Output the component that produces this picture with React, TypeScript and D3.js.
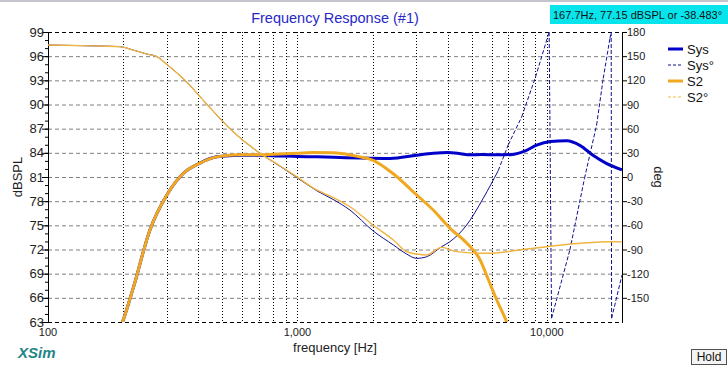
import React, { useRef, useEffect } from "react";
import { select, scaleLog, scaleLinear, line, curveMonotoneX, range } from "d3";

// Sys magnitude (dBSPL)
const sysMagFreq = [190, 200, 220, 256, 300, 350, 405, 475, 590, 700, 850, 1000, 1200, 1400, 1800, 2350, 3000, 3500, 4000, 4500, 4900, 5500, 6400, 7300, 8200, 9100, 10300, 12000, 13600, 15300, 17300, 20000];
const sysMagDb = [61.5, 63.2, 67.3, 74.4, 78.8, 81.5, 82.7, 83.5, 83.7, 83.7, 83.6, 83.55, 83.5, 83.45, 83.35, 83.3, 83.7, 83.95, 84.05, 83.9, 83.75, 83.8, 83.75, 83.8, 84.25, 84.95, 85.4, 85.5, 84.9, 83.7, 82.7, 81.9];

// S2 magnitude (dBSPL)
const s2MagFreq = [190, 200, 220, 256, 300, 350, 405, 475, 590, 700, 850, 1000, 1150, 1400, 1780, 2000, 2400, 3000, 3500, 4100, 4770, 5400, 5800, 6300, 6900, 7200];
const s2MagDb = [61.5, 63.2, 67.3, 74.4, 78.8, 81.5, 82.7, 83.5, 83.75, 83.75, 83.85, 83.95, 84.05, 84.0, 83.5, 83.1, 81.5, 78.8, 76.9, 74.6, 72.8, 70.7, 68.4, 65.7, 63.0, 61.5];

// Sys phase (deg), wrapped
const sysPhFreq = [100, 150, 194, 220, 250, 273, 299, 354, 434, 536, 703, 850, 993, 1194, 1387, 1623, 2007, 2424, 2739, 3003, 3295, 3784, 4085, 4768, 5556, 6383, 7000, 7920, 9000, 10210, 10440, 12360, 14150, 15820, 16820, 17890, 18100, 18170, 20000];
const sysPh = [163.9, 162.8, 161.8, 157.5, 152.5, 149.5, 140, 120, 90, 60, 30, 13.5, -0.5, -17, -27.7, -41, -66.7, -84.4, -95.6, -101, -99, -86.5, -80.3, -59.6, -26.4, 8, 40, 74.5, 124, 180, -175.4, -90.6, -1.6, 64.5, 122.5, 172, 180, -175.4, -121.7];

// S2 phase (deg)
const s2PhFreq = [100, 150, 194, 220, 250, 273, 299, 354, 434, 536, 703, 850, 993, 1194, 1387, 1623, 2007, 2424, 2739, 3003, 3295, 3784, 4347, 5556, 6383, 8000, 10000, 14000, 18440, 20000];
const s2Ph = [163.9, 162.8, 161.8, 157.5, 152.5, 149.5, 140, 120, 90, 60, 30, 14, 0.4, -16.1, -25.2, -36.9, -59.6, -78.2, -92.7, -95.6, -96.8, -87.3, -92.7, -94.7, -94, -90, -86.5, -82, -80.3, -80.5];

const dbTicks = [99, 96, 93, 90, 87, 84, 81, 78, 75, 72, 69, 66, 63];
const degTicks = [180, 150, 120, 90, 60, 30, 0, -30, -60, -90, -120, -150];
const freqLabels = [
  { f: 100, t: "100" },
  { f: 1000, t: "1,000" },
  { f: 10000, t: "10,000" },
];

const legendItems = [
  { name: "Sys", color: "#0000c8", width: 3, dash: null },
  { name: "Sys°", color: "#101090", width: 1, dash: "3,2" },
  { name: "S2", color: "#f0a820", width: 3, dash: null },
  { name: "S2°", color: "#f2b94a", width: 1, dash: "3,2" },
];

const FONT = "'Liberation Sans', Arial, sans-serif";

function FrequencyChart() {
  const svgRef = useRef<SVGSVGElement>(null);

  useEffect(() => {
    const svg = select(svgRef.current);
    svg.selectAll("*").remove();

    const left = 48, right = 622, top = 32, bottom = 322;

    const xScale = scaleLog().domain([100, 20000]).range([left, right]);
    const yDb = scaleLinear().domain([63, 99]).range([bottom, top]);
    const yDeg = scaleLinear().domain([-180, 180]).range([bottom, top]);

    svg.append("rect").attr("width", 728).attr("height", 368).attr("fill", "#fff");
    svg.append("rect").attr("width", 728).attr("height", 2).attr("fill", "#c4c4cc");

    svg.append("defs").append("clipPath").attr("id", "plot-clip")
      .append("rect").attr("x", left).attr("y", top).attr("width", right - left).attr("height", bottom - top);

    // grid
    const grid = svg.append("g");
    grid.selectAll(".hgrid")
      .data(dbTicks.slice(1, -1))
      .join("line")
      .attr("class", "hgrid")
      .attr("x1", left).attr("x2", right)
      .attr("y1", d => yDb(d) + 0.5).attr("y2", d => yDb(d) + 0.5)
      .attr("stroke", "#808080")
      .attr("stroke-dasharray", "4,3");

    const vfreqs = xScale.ticks().filter(f => f > 100 && f < 20000);
    grid.selectAll(".vgrid")
      .data(vfreqs)
      .join("line")
      .attr("class", "vgrid")
      .attr("x1", d => Math.round(xScale(d)) + 0.5).attr("x2", d => Math.round(xScale(d)) + 0.5)
      .attr("y1", top).attr("y2", bottom)
      .attr("stroke", "#000")
      .attr("stroke-dasharray", "1,2");

    // frame
    [top, bottom].forEach(yv => {
      svg.append("line")
        .attr("x1", left).attr("x2", right)
        .attr("y1", yv + 0.5).attr("y2", yv + 0.5)
        .attr("stroke", "#000").attr("stroke-dasharray", "4,3");
    });
    [left, right].forEach(xv => {
      svg.append("line")
        .attr("x1", xv + 0.5).attr("x2", xv + 0.5)
        .attr("y1", top).attr("y2", bottom + 1)
        .attr("stroke", "#000");
    });

    // left axis
    const leftAxis = svg.append("g");
    leftAxis.selectAll(".minor")
      .data(range(63, 100))
      .join("line")
      .attr("x1", left - 3).attr("x2", left)
      .attr("y1", d => yDb(d) + 0.5).attr("y2", d => yDb(d) + 0.5)
      .attr("stroke", "#000");
    leftAxis.selectAll(".major")
      .data(dbTicks)
      .join("line")
      .attr("x1", left - 6).attr("x2", left)
      .attr("y1", d => yDb(d) + 0.5).attr("y2", d => yDb(d) + 0.5)
      .attr("stroke", "#000");
    leftAxis.selectAll("text")
      .data(dbTicks)
      .join("text")
      .attr("x", left - 4)
      .attr("y", d => yDb(d) + 4.5)
      .attr("text-anchor", "end")
      .attr("font-family", FONT)
      .attr("font-size", 13)
      .attr("fill", "#222")
      .text(d => d);

    // right axis
    const rightAxis = svg.append("g");
    rightAxis.selectAll("line")
      .data(degTicks)
      .join("line")
      .attr("x1", right).attr("x2", right + 5)
      .attr("y1", d => yDeg(d) + 0.5).attr("y2", d => yDeg(d) + 0.5)
      .attr("stroke", "#000");
    rightAxis.selectAll("text")
      .data(degTicks)
      .join("text")
      .attr("x", right + 5)
      .attr("y", d => yDeg(d) + 4)
      .attr("font-family", FONT)
      .attr("font-size", 11)
      .attr("fill", "#222")
      .text(d => d);

    // bottom labels
    svg.append("g").selectAll("text")
      .data(freqLabels)
      .join("text")
      .attr("x", d => xScale(d.f))
      .attr("y", bottom + 14)
      .attr("text-anchor", "middle")
      .attr("font-family", FONT)
      .attr("font-size", 11)
      .attr("fill", "#222")
      .text(d => d.t);

    svg.append("text")
      .attr("x", 335).attr("y", 352)
      .attr("text-anchor", "middle")
      .attr("font-family", FONT).attr("font-size", 13).attr("fill", "#222")
      .text("frequency [Hz]");

    svg.append("text")
      .attr("transform", "translate(22,177) rotate(-90)")
      .attr("text-anchor", "middle")
      .attr("font-family", FONT).attr("font-size", 13).attr("fill", "#222")
      .text("dBSPL");

    svg.append("text")
      .attr("transform", "translate(654,177) rotate(90)")
      .attr("text-anchor", "middle")
      .attr("font-family", FONT).attr("font-size", 13).attr("fill", "#222")
      .text("deg");

    // title
    svg.append("text")
      .attr("x", 335).attr("y", 23)
      .attr("text-anchor", "middle")
      .attr("font-family", FONT).attr("font-size", 14.5).attr("fill", "#2828c8")
      .text("Frequency Response (#1)");

    // cursor readout box
    svg.append("rect")
      .attr("x", 550).attr("y", 5).attr("width", 178).attr("height", 19)
      .attr("fill", "#08e4ec");
    svg.append("text")
      .attr("x", 553).attr("y", 19)
      .attr("font-family", FONT).attr("font-size", 11).attr("fill", "#111")
      .text("167.7Hz, 77.15 dBSPL or -38.483°");

    // curves
    const plot = svg.append("g").attr("clip-path", "url(#plot-clip)");

    const smooth = line<number[]>().x(d => d[0]).y(d => d[1]).curve(curveMonotoneX);

    // phase traces: steep segments show dashes like the GDI pen, flat parts look solid
    const drawPhase = (freqs: number[], vals: number[], color: string, w: number) => {
      const pts = freqs.map((f, i) => [xScale(f), yDeg(vals[i])]);
      const runs: number[][][] = [];
      const steep: number[][][] = [];
      let run = [pts[0]];
      for (let i = 1; i < pts.length; i++) {
        const dx = pts[i][0] - pts[i - 1][0];
        const dy = pts[i][1] - pts[i - 1][1];
        if (Math.abs(dy) > 2 * Math.abs(dx)) {
          if (run.length > 1) runs.push(run);
          steep.push([pts[i - 1], pts[i]]);
          run = [pts[i]];
        } else {
          run.push(pts[i]);
        }
      }
      if (run.length > 1) runs.push(run);

      plot.append("g").selectAll("path")
        .data(runs)
        .join("path")
        .attr("d", d => smooth(d))
        .attr("fill", "none")
        .attr("stroke", color)
        .attr("stroke-width", w);

      plot.append("g").selectAll("path")
        .data(steep)
        .join("path")
        .attr("d", d => `M${d[0][0]},${d[0][1]}L${d[1][0]},${d[1][1]}`)
        .attr("fill", "none")
        .attr("stroke", color)
        .attr("stroke-width", 1)
        .attr("stroke-dasharray", "4,2");
    };

    plot.append("path")
      .datum(sysMagFreq)
      .attr("d", line<number>().x(d => xScale(d)).y((d, i) => yDb(sysMagDb[i])).curve(curveMonotoneX))
      .attr("fill", "none")
      .attr("stroke", "#0000c8")
      .attr("stroke-width", 3)
      .attr("stroke-linejoin", "round");

    drawPhase(sysPhFreq, sysPh, "#101090", 1);

    plot.append("path")
      .datum(s2MagFreq)
      .attr("d", line<number>().x(d => xScale(d)).y((d, i) => yDb(s2MagDb[i])).curve(curveMonotoneX))
      .attr("fill", "none")
      .attr("stroke", "#f0a820")
      .attr("stroke-width", 3)
      .attr("stroke-linejoin", "round");

    drawPhase(s2PhFreq, s2Ph, "#f0b440", 1.4);

    // legend
    const legend = svg.append("g");
    legendItems.forEach((item, i) => {
      const ly = 49 + i * 16;
      legend.append("line")
        .attr("x1", 668).attr("x2", 683)
        .attr("y1", ly).attr("y2", ly)
        .attr("stroke", item.color)
        .attr("stroke-width", item.width)
        .attr("stroke-dasharray", item.dash);
      legend.append("text")
        .attr("x", 687).attr("y", ly + 5)
        .attr("font-family", FONT).attr("font-size", 13).attr("fill", "#111")
        .text(item.name);
    });

    // XSim mark
    svg.append("text")
      .attr("x", 18).attr("y", 358)
      .attr("font-family", FONT).attr("font-size", 15)
      .attr("font-weight", "bold").attr("font-style", "italic")
      .attr("fill", "#1f8585")
      .text("XSim");

    // Hold button
    svg.append("rect")
      .attr("x", 691.5).attr("y", 349.5).attr("width", 35).attr("height", 15)
      .attr("fill", "#f4f4f4").attr("stroke", "#505050");
    svg.append("text")
      .attr("x", 709).attr("y", 361)
      .attr("text-anchor", "middle")
      .attr("font-family", FONT).attr("font-size", 12).attr("fill", "#111")
      .text("Hold");
  }, []);

  return (
    <svg
      ref={svgRef}
      width={728}
      height={368}
      style={{ position: "absolute", left: 0, top: 0, display: "block" }}
    />
  );
}

export default function App() {
  return <FrequencyChart />;
}
